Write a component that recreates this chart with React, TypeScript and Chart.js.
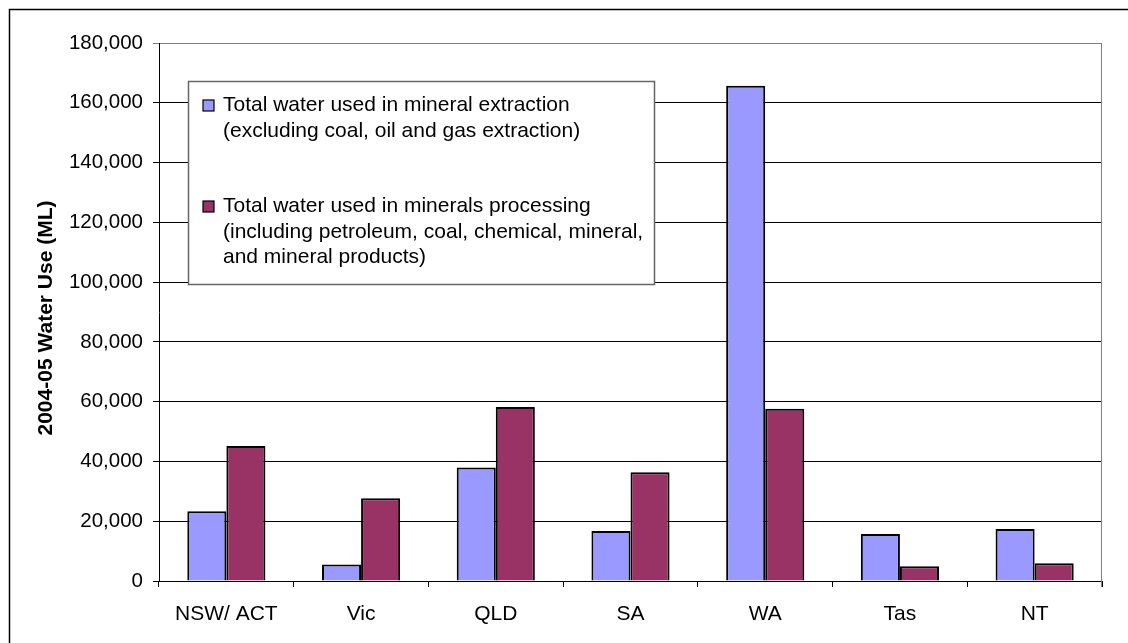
import React, { useEffect, useRef } from "react";
import { Chart, registerables } from "chart.js";

Chart.register(...registerables);

const categories = ["NSW/ ACT", "Vic", "QLD", "SA", "WA", "Tas", "NT"];
const extractionValues = [23300, 5500, 38000, 16700, 165700, 15700, 17400];
const processingValues = [45200, 27700, 58200, 36400, 57600, 4900, 5900];
const extractionLabel = ["Total water used in mineral extraction", "(excluding coal, oil and gas extraction)"];
const processingLabel = [
  "Total water used in minerals processing",
  "(including petroleum, coal, chemical, mineral,",
  "and mineral products)",
];
const yTitle = "2004-05 Water Use (ML)";
const yMin = 0;
const yMax = 180000;
const yStep = 20000;

const FONT = '"Liberation Sans", Arial, sans-serif';
const BLUE = "#9999FF";
const MAROON = "#993366";

const decorPlugin = {
  id: "decor",
  beforeDraw(chart: any) {
    const ctx = chart.ctx;
    ctx.save();
    ctx.fillStyle = "#ffffff";
    ctx.fillRect(0, 0, chart.width, chart.height);
    ctx.restore();
  },
  afterDraw(chart: any) {
    const ctx = chart.ctx;
    const a = chart.chartArea;
    ctx.save();
    // outer frame
    ctx.strokeStyle = "#000";
    ctx.lineWidth = 1.5;
    ctx.strokeRect(9.5, 9.5, chart.width + 20, chart.height + 20);
    // plot right border
    ctx.strokeStyle = "#808080";
    ctx.lineWidth = 1;
    ctx.beginPath();
    ctx.moveTo(Math.round(a.right) - 0.5, a.top);
    ctx.lineTo(Math.round(a.right) - 0.5, a.bottom + 6);
    ctx.stroke();
    // y title
    ctx.fillStyle = "#000";
    ctx.font = "bold 21px " + FONT;
    ctx.textAlign = "center";
    ctx.textBaseline = "middle";
    ctx.translate(46, (a.top + a.bottom) / 2 + 6);
    ctx.rotate(-Math.PI / 2);
    ctx.fillText(yTitle, 0, 0);
    ctx.restore();

    // legend
    ctx.save();
    const bx = 188.5, by = 81.5, bw = 466, bh = 203;
    ctx.fillStyle = "#fff";
    ctx.fillRect(bx, by, bw, bh);
    ctx.strokeStyle = "#666";
    ctx.lineWidth = 1.5;
    ctx.strokeRect(bx, by, bw, bh);
    const entries = [
      { lines: extractionLabel, color: BLUE, base: 111 },
      { lines: processingLabel, color: MAROON, base: 212 },
    ];
    ctx.font = "21px " + FONT;
    ctx.textAlign = "left";
    ctx.textBaseline = "alphabetic";
    entries.forEach((e) => {
      ctx.fillStyle = e.color;
      ctx.fillRect(203, e.base - 11, 11, 11);
      ctx.strokeStyle = "#000";
      ctx.lineWidth = 1.2;
      ctx.strokeRect(203, e.base - 11, 11, 11);
      ctx.fillStyle = "#000";
      e.lines.forEach((l, i) => ctx.fillText(l, 223, e.base + i * 25.5));
    });
    ctx.restore();
  },
};

export default function App() {
  const ref = useRef<HTMLCanvasElement>(null);
  useEffect(() => {
    if (!ref.current) return;
    const chart = new Chart(ref.current, {
      type: "bar",
      data: {
        labels: categories,
        datasets: [
          {
            label: extractionLabel.join(" "),
            data: extractionValues,
            backgroundColor: BLUE,
            borderColor: "#000",
            borderWidth: 2,
          },
          {
            label: processingLabel.join(" "),
            data: processingValues,
            backgroundColor: MAROON,
            borderColor: "#000",
            borderWidth: 2,
          },
        ],
      },
      options: {
        responsive: false,
        animation: false,
        devicePixelRatio: 1,
        layout: { padding: { top: 43, right: 26, left: 0, bottom: 0 } },
        datasets: { bar: { categoryPercentage: 0.58, barPercentage: 1 } },
        plugins: { legend: { display: false }, tooltip: { enabled: false } },
        scales: {
          x: {
            type: "category",
            offset: true,
            grid: {
              offset: true,
              drawOnChartArea: false,
              drawTicks: true,
              tickLength: 6,
              color: "#000",
            },
            border: { display: true, color: "#000", width: 1 },
            ticks: { color: "#000", font: { family: FONT, size: 21 }, padding: 15, maxRotation: 0 },
            afterFit: (s: any) => {
              s.height = 62;
            },
          },
          y: {
            min: yMin,
            max: yMax,
            ticks: {
              stepSize: yStep,
              color: "#000",
              font: { family: FONT, size: 20.5 },
              padding: 10,
              callback: (v: any) => Number(v).toLocaleString("en-US"),
            },
            grid: {
              color: (c: any) => (c.tick && c.tick.value === yMax ? "#808080" : "#000"),
              tickLength: 6,
              lineWidth: 1,
            },
            border: { display: true, color: "#000", width: 1 },
            afterFit: (s: any) => {
              s.width = 159;
            },
          },
        },
      },
      plugins: [decorPlugin],
    });
    return () => chart.destroy();
  }, []);
  return (
    <div style={{ position: "fixed", left: 0, top: 0, width: 1128, height: 643, background: "#fff" }}>
      <canvas ref={ref} width={1128} height={643} style={{ width: 1128, height: 643, display: "block" }} />
    </div>
  );
}
